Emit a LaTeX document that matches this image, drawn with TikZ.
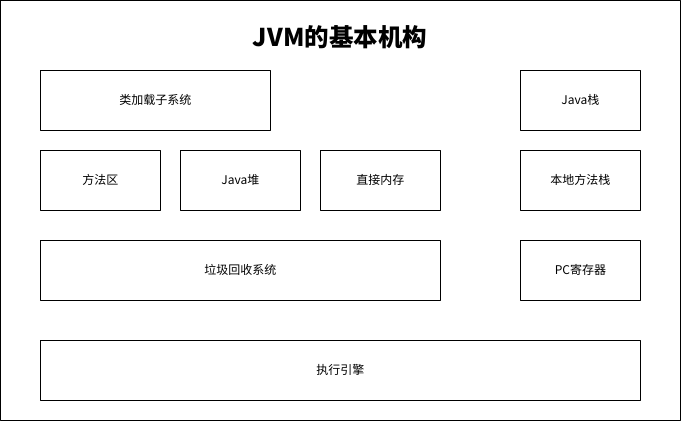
\documentclass[tikz,border=0pt]{standalone}
\usepackage{fontspec}
\setmainfont{Liberation Sans}
\newfontfamily\cjk{Noto Sans CJK SC}
\begin{document}
\begin{tikzpicture}[x=1pt, y=-1pt, font=\cjk\fontsize{12}{14}\selectfont, line join=round,
  part/.style={draw, line width=0.75pt, inner sep=0pt, anchor=north west}]
			\draw[line width=0.75pt] (0.5,0.5) rectangle (680.5,420.5);
			\useasboundingbox (0,0) rectangle (681,421);
			\node[font=\cjk\bfseries\fontsize{24.5}{28}\selectfont] (title) at (340,37) {JVM的基本机构};
			\node[part, minimum width=230pt, minimum height=60pt] (loader) at (40,70) {类加载子系统};
			\node[part, minimum width=120pt, minimum height=60pt] (jstack) at (520,70) {Java栈};
			\node[part, minimum width=120pt, minimum height=60pt] (method) at (40,150) {方法区};
			\node[part, minimum width=120pt, minimum height=60pt] (heap) at (180,150) {Java堆};
			\node[part, minimum width=120pt, minimum height=60pt] (direct) at (320,150) {直接内存};
			\node[part, minimum width=120pt, minimum height=60pt] (native) at (520,150) {本地方法栈};
			\node[part, minimum width=400pt, minimum height=60pt] (gc) at (40,240) {垃圾回收系统};
			\node[part, minimum width=120pt, minimum height=60pt] (pc) at (520,240) {PC寄存器};
			\node[part, minimum width=600pt, minimum height=60pt] (engine) at (40,340) {执行引擎};
		\end{tikzpicture}
\end{document}
